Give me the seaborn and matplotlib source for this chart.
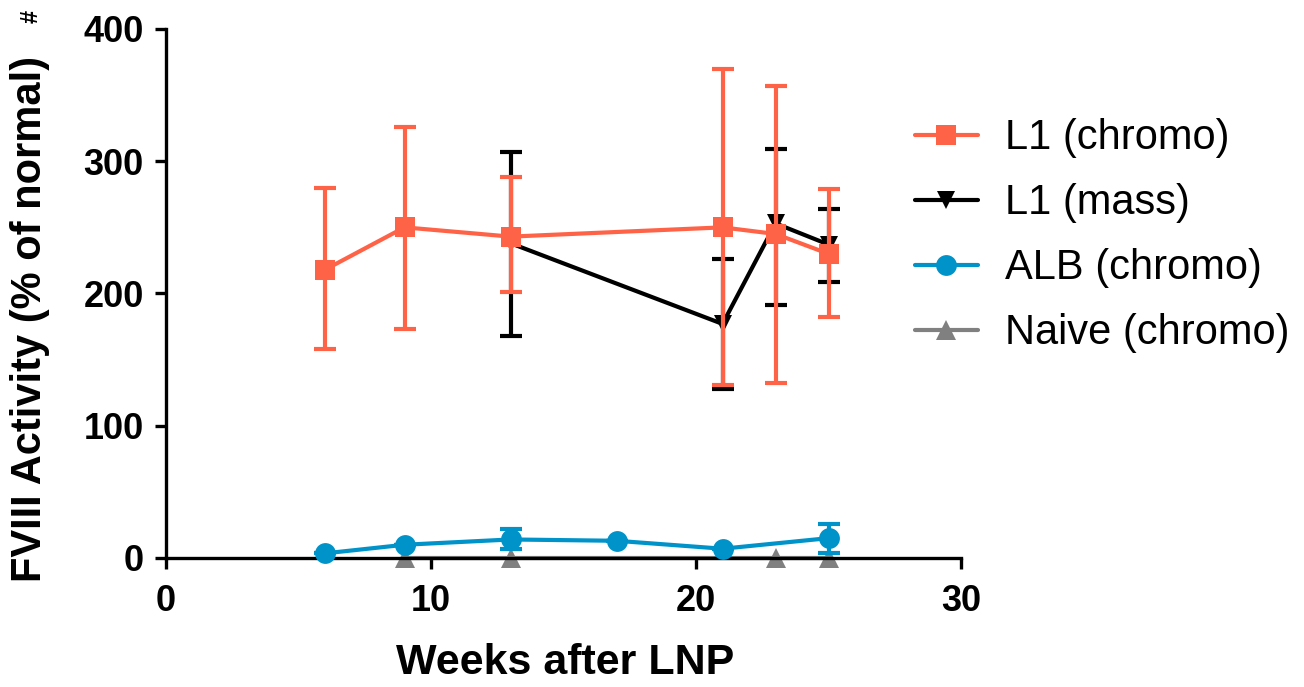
import matplotlib
matplotlib.use("Agg")
import matplotlib.pyplot as plt
import seaborn as sns
import pandas as pd

# Data (FVIII activity, % of normal)
weeks_l1c = [6, 9, 13, 21, 23, 25]
l1c_mean = [218, 250, 243, 250, 245, 230]
l1c_low = [158, 173, 201, 131, 132, 182]
l1c_high = [280, 326, 288, 370, 357, 279]

weeks_l1m = [13, 21, 23, 25]
l1m_mean = [238, 177, 253, 237]
l1m_low = [168, 128, 191, 209]
l1m_high = [307, 226, 309, 264]

weeks_alb = [6, 9, 13, 17, 21, 25]
alb_mean = [3.5, 10, 14, 13, 7, 15]
alb_low = [3.5, 10, 7, 13, 7, 4]
alb_high = [3.5, 10, 22, 13, 7, 26]

weeks_naive = [9, 13, 23, 25]
naive_mean = [0, 0, 0, 0]

series = [
    # label, weeks, mean, low, high, colour, marker, size, zorder
    ("L1 (mass)", weeks_l1m, l1m_mean, l1m_low, l1m_high, "#000000", "v", 13, 3),
    ("L1 (chromo)", weeks_l1c, l1c_mean, l1c_low, l1c_high, "#FF6347", "s", 15, 4),
    ("Naive (chromo)", weeks_naive, naive_mean, naive_mean, naive_mean, "#808080", "^", 14, 1.5),
    ("ALB (chromo)", weeks_alb, alb_mean, alb_low, alb_high, "#0093C9", "o", 15, 5),
]

sns.set_style("ticks", rc={'text.color': 'black', 'axes.labelcolor': 'black',
                           'xtick.color': 'black', 'ytick.color': 'black',
                           'axes.edgecolor': 'black'})
plt.rcParams['font.family'] = ['Liberation Sans', 'DejaVu Sans']

fig = plt.figure(figsize=(13.04, 6.87), dpi=100)
ax = fig.add_axes([0.1273, 0.1878, 0.6097, 0.770])

for label, wk, mean, low, high, col, mk, ms, z in series:
    df = pd.DataFrame({'week': wk, 'value': mean})
    sns.lineplot(data=df, x='week', y='value', ax=ax, color=col, marker=mk,
                 markersize=ms, markeredgewidth=0, linewidth=3, label=label,
                 zorder=z, clip_on=False)
    yerr = [[m - l for m, l in zip(mean, low)], [h - m for m, h in zip(mean, high)]]
    if any(v > 0 for row in yerr for v in row):
        ax.errorbar(wk, mean, yerr=yerr, fmt='none', ecolor=col, elinewidth=3,
                    capsize=8, capthick=3, zorder=z - 0.1, clip_on=False)

ax.set_xlim(0, 30)
ax.set_ylim(0, 400)
ax.set_xticks([0, 10, 20, 30])
ax.set_yticks([0, 100, 200, 300, 400])
sns.despine(ax=ax)
for s in ['left', 'bottom']:
    ax.spines[s].set_linewidth(2.4)
    ax.spines[s].set_zorder(2.5)
ax.tick_params(axis='both', length=8, width=2.4, labelsize=26, pad=8)
ax.tick_params(axis='x', pad=11)
for t in ax.get_xticklabels() + ax.get_yticklabels():
    t.set_fontweight('bold')

ax.set_xlabel("Weeks after LNP", fontsize=31, fontweight='bold')
ax.set_ylabel("FVIII Activity (% of normal)", fontsize=30, fontweight='bold')
ax.xaxis.set_label_coords(0.502, -0.16)
ax.yaxis.set_label_coords(-0.146, 0.452)
fig.text(0.024, 0.985, "#", rotation=90, fontsize=17, fontweight='bold',
         ha='center', va='top')

# Legend in the reference order
h, l = ax.get_legend_handles_labels()
ax.get_legend().remove()
order = ["L1 (chromo)", "L1 (mass)", "ALB (chromo)", "Naive (chromo)"]
hd = dict(zip(l, h))
fig.legend([hd[k] for k in order], order, loc='upper left',
           bbox_to_anchor=(0.7017, 0.828), frameon=False, fontsize=30,
           handlelength=1.5, labelspacing=0.6, handletextpad=0.65,
           borderpad=0, borderaxespad=0)

plt.savefig("out.png", dpi=100)
